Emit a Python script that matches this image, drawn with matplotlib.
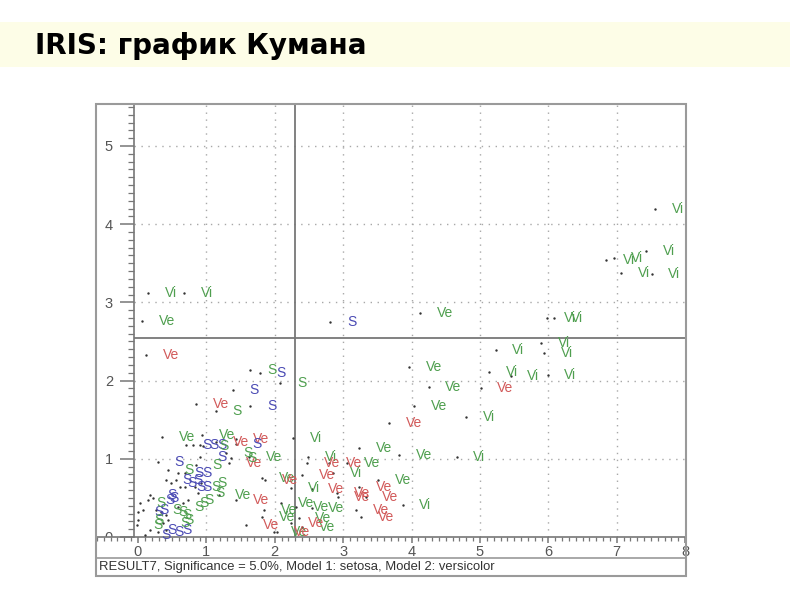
import matplotlib

matplotlib.use("Agg")
import matplotlib.pyplot as plt
from matplotlib.patches import Rectangle
from matplotlib.lines import Line2D
from matplotlib.ticker import MultipleLocator

W, H = 800, 600
GREEN = "#4f9f4f"
RED = "#d25a5a"
BLUE = "#4a4ab4"
GRID = "#a8a8a8"
FRAME = "#9a9a9a"

TITLE = "IRIS: график Кумана"
FOOTER = "RESULT7, Significance = 5.0%, Model 1: setosa, Model 2: versicolor"

# critical limits (model 1 distance, model 2 distance)
CRIT_X = 2.29
CRIT_Y = 2.54
X_TICKS = [0, 1, 2, 3, 4, 5, 6, 7, 8]
Y_TICKS = [0, 1, 2, 3, 4, 5]
GRID_X = [1, 2, 3, 4, 5, 6, 7]
GRID_Y = [1, 2, 3, 4, 5]

# virginica, green "Vi"
vi_x = [7.56, 7.43, 7.51, 7.06, 6.84, 6.96, 0.15, 0.67, 5.98, 6.08, 5.23, 5.89,
        5.94, 5.13, 5.45, 5.99, 4.80, 4.66, 3.87, 2.27, 2.49, 2.85, 2.24]
vi_y = [4.19, 3.66, 3.36, 3.38, 3.54, 3.57, 3.12, 3.12, 2.80, 2.80, 2.39, 2.48,
        2.35, 2.11, 2.06, 2.07, 1.53, 1.02, 0.41, 1.27, 1.02, 0.82, 0.63]

# versicolor, green "Ve"
veg_x = [0.06, 4.12, 3.96, 4.25, 4.04, 3.82, 3.51, 3.23, 3.06, 0.35, 0.94, 1.62,
         1.81, 1.18, 2.09, 2.31, 2.54, 2.35, 1.84, 1.81, 2.40, 1.99]
veg_y = [2.76, 2.86, 2.17, 1.92, 1.68, 1.05, 0.73, 1.14, 0.95, 1.28, 1.30, 1.02,
         0.75, 0.54, 0.43, 0.38, 0.37, 0.24, 0.35, 0.26, 0.13, 0.06]

# versicolor, red "Ve"
ver_x = [0.12, 5.01, 3.67, 0.85, 1.43, 1.14, 1.33, 2.47, 2.79, 2.40, 1.86, 2.54,
         2.91, 2.92, 3.23, 3.33, 3.19, 3.26, 2.24, 1.58, 1.43, 2.03]
ver_y = [2.33, 1.91, 1.46, 1.70, 1.25, 1.21, 0.95, 0.95, 0.95, 0.79, 0.73, 0.61,
         0.56, 0.51, 0.64, 0.51, 0.35, 0.26, 0.18, 0.15, 0.47, 0.06]

# setosa, blue "S"
sb_x = [2.81, 1.78, 1.39, 1.64, 0.29, 0.70, 0.80, 0.91, 1.43, 0.58, 0.69, 0.41,
        0.48, 0.56, 0.61, 0.69, 0.18, 0.22, 0.15, 0.07, 0.00, 0.18, 0.29, 0.41,
        0.10, 0.91]
sb_y = [2.75, 2.10, 1.88, 1.68, 0.96, 1.18, 1.18, 1.18, 1.19, 0.82, 0.82, 0.73,
        0.69, 0.73, 0.64, 0.64, 0.54, 0.50, 0.47, 0.35, 0.32, 0.09, 0.06, 0.09,
        0.03, 1.02]

# setosa, green "S"
sg_x = [1.64, 2.08, 1.14, 0.95, 1.29, 1.36, 0.44, 0.83, 0.92, 0.88, 0.73, 0.66,
        0.58, 0.03, 0.26, 0.34, 0.41, 0.44, 0.37, 0.00, -0.02, 0.85]
sg_y = [2.14, 1.97, 1.61, 1.16, 1.07, 1.01, 0.86, 0.64, 0.69, 0.56, 0.47, 0.43,
        0.38, 0.43, 0.35, 0.32, 0.28, 0.22, 0.18, 0.22, 0.15, 0.92]

GROUPS = [
    ("Vi", GREEN, vi_x, vi_y),
    ("Ve", GREEN, veg_x, veg_y),
    ("Ve", RED, ver_x, ver_y),
    ("S", BLUE, sb_x, sb_y),
    ("S", GREEN, sg_x, sg_y),
]


def fx(px):
    return px / W


def fy(py):
    return 1 - py / H


fig = plt.figure(figsize=(8, 6), dpi=100)
fig.patch.set_facecolor("white")

# title band
fig.patches.append(Rectangle((0, fy(67)), fx(790), 45 / H, transform=fig.transFigure,
                             facecolor="#fdfde7", edgecolor="none", zorder=0))
fig.text(fx(35), fy(46), TITLE, fontsize=20, fontweight="bold", color="black",
         ha="left", va="center", family="DejaVu Sans")

# plot frame
fig.patches.append(Rectangle((fx(96), fy(576)), (686 - 96) / W, (576 - 104) / H,
                             transform=fig.transFigure, fill=False,
                             edgecolor=FRAME, linewidth=1.5, zorder=5))
fig.lines.append(Line2D([fx(96), fx(686)], [fy(558), fy(558)],
                        transform=fig.transFigure, color=FRAME, linewidth=1.2))
fig.text(fx(99), fy(567), FOOTER, fontsize=9.4, color="#333333",
         ha="left", va="center", family="Liberation Sans")

ax = fig.add_axes([fx(96), fy(537), (686 - 96) / W, (537 - 104) / H])
ax.set_xlim(-0.614, 8.012)
ax.set_ylim(0, 5.537)
ax.patch.set_alpha(0)

ax.spines["left"].set_position(("data", -0.06))
for side in ["left", "bottom", "top", "right"]:
    ax.spines[side].set_color("#777777")
    ax.spines[side].set_linewidth(1.2)
ax.spines["top"].set_visible(False)
ax.spines["right"].set_visible(False)

ax.set_xticks(X_TICKS)
ax.set_yticks(Y_TICKS)
ax.xaxis.set_minor_locator(MultipleLocator(0.1))
ax.yaxis.set_minor_locator(MultipleLocator(0.1))
ax.tick_params(axis="y", which="major", direction="out", length=10, width=1.1,
               color="#777777", labelsize=10.5, labelcolor="#555555", pad=5)
ax.tick_params(axis="y", which="minor", direction="out", length=4, width=0.9,
               color="#777777")
ax.tick_params(axis="x", which="major", direction="out", length=4, width=1.1,
               color="#777777", labelsize=10.5, labelcolor="#555555", pad=2)
ax.tick_params(axis="x", which="minor", direction="out", length=3, width=0.9,
               color="#777777")
for lbl in ax.get_xticklabels() + ax.get_yticklabels():
    lbl.set_family("Liberation Sans")
ylab0 = ax.get_yticklabels()[0]
ylab0.set_clip_box(ax.bbox)
ylab0.set_clip_on(True)

# dotted grid
for gx in GRID_X:
    ax.axvline(gx, color=GRID, linestyle=(0, (1, 4)), linewidth=1, zorder=1)
for gy in GRID_Y:
    ax.hlines(gy, -0.06, 8.012, color=GRID, linestyle=(0, (1, 4)), linewidth=1, zorder=1)

# critical limits
ax.axvline(CRIT_X, color="#777777", linewidth=1.3, zorder=2)
ax.hlines(CRIT_Y, -0.06, 8.012, color="#777777", linewidth=1.3, zorder=2)

for lab, col, xs, ys in GROUPS:
    ax.scatter(xs, ys, s=3, color="#333333", zorder=3, linewidths=0)
    for x, y in zip(xs, ys):
        ax.annotate(lab, (x, y), xytext=(12, 0), textcoords="offset points",
                    ha="left", va="center", fontsize=10, color=col,
                    family="Liberation Sans", zorder=4)

fig.savefig("out.png", dpi=100, facecolor="white")
